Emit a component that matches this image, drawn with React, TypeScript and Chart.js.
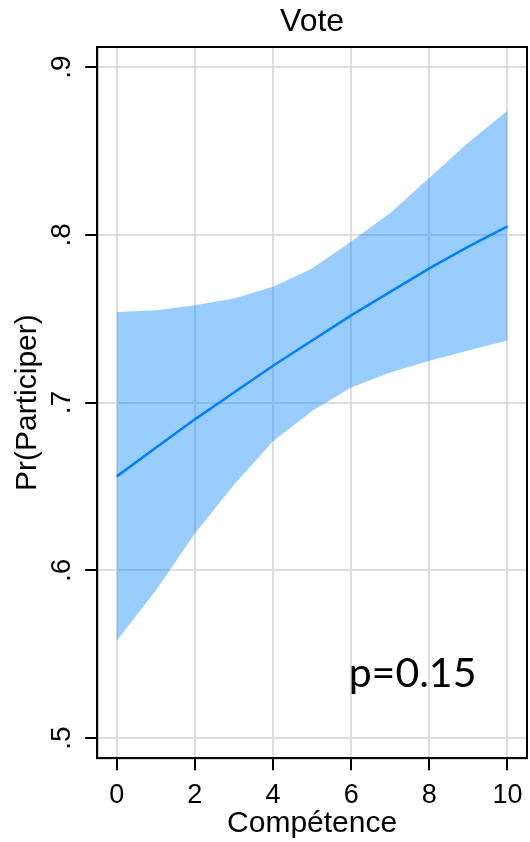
import React, { useEffect, useRef } from "react";
import { Chart, registerables } from "chart.js";

Chart.register(...registerables);

const xValues = [0, 1, 2, 3, 4, 5, 6, 7, 8, 9, 10];
const fitted = [0.656, 0.673, 0.69, 0.706, 0.722, 0.737, 0.752, 0.766, 0.78, 0.793, 0.805];
const upper = [0.754, 0.755, 0.758, 0.762, 0.769, 0.78, 0.796, 0.813, 0.834, 0.855, 0.874];
const lower = [0.558, 0.588, 0.622, 0.651, 0.677, 0.695, 0.709, 0.718, 0.725, 0.731, 0.737];
const xTicks = [0, 2, 4, 6, 8, 10];
const yTicks = [0.5, 0.6, 0.7, 0.8, 0.9];
const yTickLabels = [".5", ".6", ".7", ".8", ".9"];
const chartTitle = "Vote";
const xTitle = "Compétence";
const yTitle = "Pr(Participer)";
const annotationText = "p=0.15";
const annotationAt = { x: 7.57, y: 0.5304 };

const FONT = "'Liberation Sans', Arial, Helvetica, sans-serif";

export default function App() {
  const ref = useRef<HTMLCanvasElement | null>(null);
  useEffect(() => {
    if (!ref.current) return;
    const pts = (arr: number[]) => xValues.map((x, i) => ({ x, y: arr[i] }));
    const framePlugin = {
      id: "frame",
      afterDraw(chart: any) {
        const { ctx, chartArea } = chart;
        ctx.save();
        ctx.strokeStyle = "#000";
        ctx.lineWidth = 2;
        ctx.strokeRect(chartArea.left, chartArea.top, chartArea.right - chartArea.left, chartArea.bottom - chartArea.top);
        ctx.restore();
      },
    };
    const annotPlugin = {
      id: "annot",
      afterDatasetsDraw(chart: any) {
        const { ctx, scales } = chart;
        const px = scales.x.getPixelForValue(annotationAt.x);
        const py = scales.y.getPixelForValue(annotationAt.y);
        ctx.save();
        ctx.fillStyle = "#000";
        ctx.font = "41px Lato, 'Open Sans', sans-serif";
        ctx.textAlign = "center";
        ctx.textBaseline = "alphabetic";
        ctx.fillText(annotationText, px, py);
        ctx.restore();
      },
    };
    const chart = new Chart(ref.current, {
      type: "line",
      data: {
        datasets: [
          {
            data: pts(upper),
            borderWidth: 0,
            pointRadius: 0,
            fill: "+1",
            backgroundColor: "rgba(0,128,255,0.4)",
            borderColor: "rgba(0,0,0,0)",
            tension: 0,
          },
          {
            data: pts(lower),
            borderWidth: 0,
            pointRadius: 0,
            fill: false,
            borderColor: "rgba(0,0,0,0)",
            tension: 0,
          },
          {
            data: pts(fitted),
            borderWidth: 2.5,
            pointRadius: 0,
            fill: false,
            borderColor: "#0080FF",
            tension: 0,
          },
        ],
      },
      options: {
        responsive: false,
        animation: false,
        events: [],
        layout: { padding: { left: 0, right: 3, top: 0, bottom: 0 } },
        plugins: {
          legend: { display: false },
          tooltip: { enabled: false },
          title: { display: false },
        },
        scales: {
          x: {
            type: "linear",
            position: "bottom",
            min: -0.5,
            max: 10.5,
            afterBuildTicks: (s: any) => {
              s.ticks = xTicks.map((v) => ({ value: v }));
            },
            grid: { color: "#dedede", lineWidth: 2, tickColor: "#000", tickWidth: 2, tickLength: 12 },
            border: { display: true, color: "#000", width: 2 },
            ticks: {
              color: "#000",
              font: { family: FONT, size: 27, lineHeight: 1.55 },
              padding: 4,
              maxRotation: 0,
            },
            title: {
              display: true,
              text: xTitle,
              color: "#000",
              font: { family: FONT, size: 30, lineHeight: 1 },
              padding: { top: -11, bottom: 3 },
            },
          },
          top: {
            type: "linear",
            position: "top",
            min: -0.5,
            max: 10.5,
            grid: { display: false, drawTicks: false },
            border: { display: false },
            ticks: { display: false },
            title: {
              display: true,
              text: chartTitle,
              color: "#000",
              font: { family: FONT, size: 32, lineHeight: 1 },
              padding: { top: 6, bottom: 9 },
            },
          },
          y: {
            type: "linear",
            min: 0.488,
            max: 0.912,
            afterBuildTicks: (s: any) => {
              s.ticks = yTicks.map((v) => ({ value: v }));
            },
            grid: { color: "#dedede", lineWidth: 2, tickColor: "#000", tickWidth: 2, tickLength: 12 },
            border: { display: true, color: "#000", width: 2 },
            ticks: {
              color: "#000",
              font: { family: FONT, size: 28, lineHeight: 0.7 },
              padding: 11.3,
              minRotation: 90,
              maxRotation: 90,
              crossAlign: "center",
              callback: (v: any) => {
                const i = yTicks.findIndex((t) => Math.abs(t - Number(v)) < 1e-9);
                return i >= 0 ? yTickLabels[i] : "";
              },
            },
            title: {
              display: true,
              text: yTitle,
              color: "#000",
              font: { family: FONT, size: 30, lineHeight: 1 },
              padding: { top: 13, bottom: 0 },
            },
          },
        },
      },
      plugins: [framePlugin, annotPlugin],
    } as any);
    return () => chart.destroy();
  }, []);
  return (
    <div style={{ position: "absolute", left: 0, top: 0, width: 530, height: 842, background: "#fff" }}>
      <canvas ref={ref} width={530} height={842} style={{ display: "block" }} />
    </div>
  );
}
